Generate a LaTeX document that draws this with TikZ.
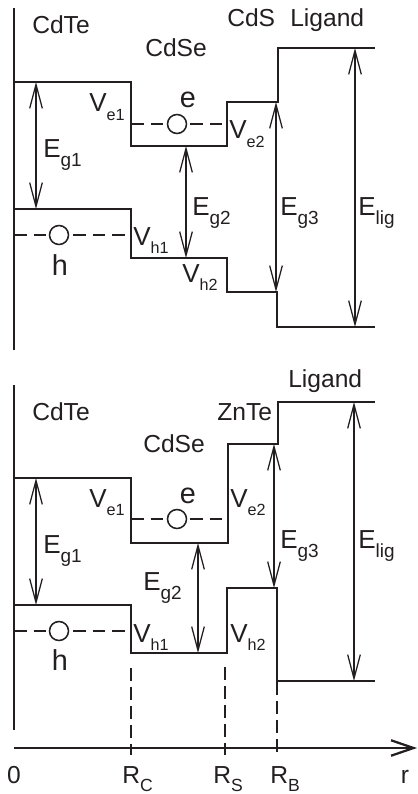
\documentclass[tikz,border=0pt]{standalone}
\usepackage{fontspec}
\setmainfont{Liberation Sans}
\usetikzlibrary{arrows.meta}
\definecolor{bandblack}{RGB}{35,31,32}

% letter with a lowered small index
\newcommand{\idx}[3][11.5]{#2\raisebox{-6pt}{\fontsize{#1}{12}\selectfont #3}}
\newcommand{\gapE}[1]{E\raisebox{-7pt}{\fontsize{13.5}{14}\selectfont #1}}

\begin{document}
\begin{tikzpicture}[x=0.025cm, y=-0.025cm,
  band/.style={line width=1.6pt, bandblack},
  level/.style={line width=1.2pt, bandblack, dash pattern=on 9pt off 5pt},
  radline/.style={line width=1pt, bandblack, dash pattern=on 9.5pt off 4pt},
  gaparrow/.style={line width=0.9pt, bandblack,
    {Straight Barb[length=17pt, width=9pt]}-{Straight Barb[length=17pt, width=9pt]}},
  lbl/.style={font=\fontsize{17.5}{20}\selectfont, inner sep=0pt, anchor=base west, text=bandblack},
  lblc/.style={lbl, anchor=base},
  gaplbl/.style={lbl, font=\fontsize{18.5}{22}\selectfont},
  chg/.style={lblc, font=\fontsize{20.5}{24}\selectfont},
  carrier/.style={circle, draw=bandblack, line width=1.1pt, fill=white, inner sep=0pt, minimum size=13.5pt}]
  \useasboundingbox (0,0) rectangle (417,794);

  % ---- upper panel: CdTe/CdSe/CdS
  \draw[band] (14,8) -- (14,350);
  \draw[band] (14,82) -| (131,146) -| (227,102) -| (278,48) -- (375,48);
  \draw[band] (14,209) -| (131,258) -| (227,292) -| (277,327) -- (375,327);
  \draw[level] (131,124) -- (227,124);
  \draw[level] (14,235) -- (131,235);
  \node[carrier] (eA) at (177,124) {};
  \node[carrier] (hA) at (59,235) {};

  \coordinate (gA1t) at (36,82);   \coordinate (gA1b) at (36,209);
  \coordinate (gA2t) at (186,146); \coordinate (gA2b) at (186,258);
  \coordinate (gA3t) at (276,102); \coordinate (gA3b) at (276,292);
  \coordinate (ligAt) at (355,48); \coordinate (ligAb) at (355,327);
  \draw[gaparrow] (gA1t) -- (gA1b);
  \draw[gaparrow] (gA2t) -- (gA2b);
  \draw[gaparrow] (gA3t) -- (gA3b);
  \draw[gaparrow] (ligAt) -- (ligAb);

  \node[lbl] (cdteA) at (32,34) {CdTe};
  \node[lbl] (cdseA) at (145,57) {CdSe};
  \node[lbl] (cdsA) at (227,27) {CdS};
  \node[lbl] (ligA) at (290,27) {Ligand};
  \node[chg] (eAl) at (188,108) {e};
  \node[chg] (hAl) at (60,275) {h};
  \node[gaplbl] (ve1A) at (89,112) {\idx{V}{e1}};
  \node[gaplbl] (ve2A) at (229,139) {\idx{V}{e2}};
  \node[gaplbl] (vh1A) at (133,245) {\idx{V}{h1}};
  \node[gaplbl] (vh2A) at (182,282) {\idx{V}{h2}};
  \node[gaplbl] (eg1A) at (43,157) {\gapE{g1}};
  \node[gaplbl] (eg2A) at (192,215) {\gapE{g2}};
  \node[gaplbl] (eg3A) at (280,215) {\gapE{g3}};
  \node[gaplbl] (eligA) at (358,215) {\gapE{lig}};

  % ---- lower panel: CdTe/CdSe/ZnTe
  \draw[band] (14,385) -- (14,730);
  \draw[band] (14,478) -| (131,543) -| (228,444) -| (278,402) -- (375,402);
  \draw[band] (14,605) -| (131,653) -| (227,588) -| (277,681) -- (375,681);
  \draw[level] (131,519) -- (224,519);
  \draw[level] (14,631) -- (131,631);
  \node[carrier] (eB) at (177,519) {};
  \node[carrier] (hB) at (59,631) {};

  \coordinate (gB1t) at (36,478);  \coordinate (gB1b) at (36,605);
  \coordinate (gB2t) at (198,543); \coordinate (gB2b) at (198,653);
  \coordinate (gB3t) at (274,444); \coordinate (gB3b) at (274,588);
  \coordinate (ligBt) at (354,402); \coordinate (ligBb) at (354,681);
  \draw[gaparrow] (gB1t) -- (gB1b);
  \draw[gaparrow] (gB2t) -- (gB2b);
  \draw[gaparrow] (gB3t) -- (gB3b);
  \draw[gaparrow] (ligBt) -- (ligBb);

  \node[lbl] (ligB) at (288,387) {Ligand};
  \node[lbl] (cdteB) at (32,420) {CdTe};
  \node[lbl] (znteB) at (217,420) {ZnTe};
  \node[lbl] (cdseB) at (143,452) {CdSe};
  \node[chg] (eBl) at (188,503) {e};
  \node[chg] (hBl) at (60,670) {h};
  \node[gaplbl] (ve1B) at (89,507) {\idx{V}{e1}};
  \node[gaplbl] (ve2B) at (230,507) {\idx{V}{e2}};
  \node[gaplbl] (vh1B) at (133,642) {\idx{V}{h1}};
  \node[gaplbl] (vh2B) at (230,642) {\idx{V}{h2}};
  \node[gaplbl] (eg1B) at (43,553) {\gapE{g1}};
  \node[gaplbl] (eg2B) at (143,590) {\gapE{g2}};
  \node[gaplbl] (eg3B) at (280,548) {\gapE{g3}};
  \node[gaplbl] (eligB) at (358,548) {\gapE{lig}};

  % radial axis
  \coordinate (ax0) at (14,748);
  \coordinate (axr) at (417,748);
  \draw[line width=1.6pt, bandblack, -{Straight Barb[length=16pt, width=11pt]}] (ax0) -- (axr);
  \draw[radline] (131,668) -- (131,755);
  \draw[radline] (225,667) -- (225,755);
  \draw[radline] (277,682) -- (277,755);
  \node[lblc] (zero) at (14,783) {0};
  \node[lbl] (rc) at (122,783) {\idx[12.5]{R}{C}};
  \node[lbl] (rs) at (213,783) {\idx[12.5]{R}{S}};
  \node[lbl] (rb) at (270,783) {\idx[12.5]{R}{B}};
  \node[lblc] (rr) at (405,783) {r};
\end{tikzpicture}
\end{document}
